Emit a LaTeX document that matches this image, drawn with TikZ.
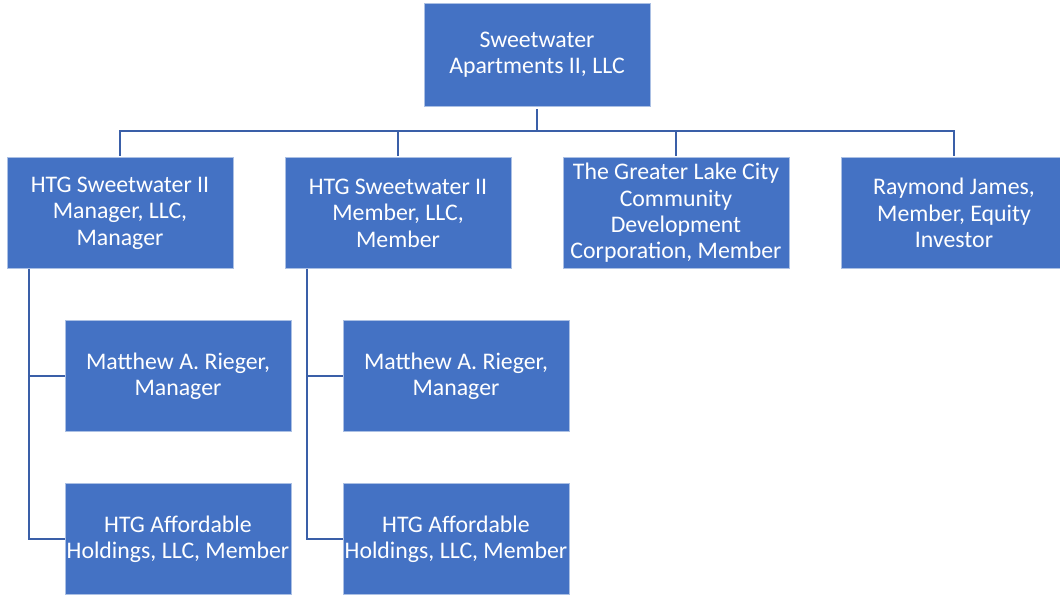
\documentclass[tikz,border=0pt]{standalone}
\usepackage{fontspec}
\setmainfont{Carlito}
\usetikzlibrary{positioning}
\definecolor{boxblue}{HTML}{4472C4}
\definecolor{linkblue}{HTML}{3A5FA8}
\tikzset{x=1pt,y=1pt,node distance=52pt,
  box/.style={draw=white!55!boxblue,line width=0.8pt,fill=boxblue,text=white,align=center,
    minimum width=226pt,minimum height=111pt,inner sep=0pt,outer sep=0pt,
    font=\fontsize{23.8}{26.4}\selectfont},
  link/.style={draw=linkblue,line width=2.8pt}}

\begin{document}
\begin{tikzpicture}
              \useasboundingbox (0,0) rectangle (1060,-596);
              \node[box,minimum height=103pt] (top) at (537,-54.5) {Sweetwater\\Apartments II, LLC};
              \node[box] (mgr) at (120,-213) {HTG Sweetwater II\\Manager, LLC,\\Manager};
              \node[box] (mem) [right=of mgr] {HTG Sweetwater II\\Member, LLC,\\Member};
              \node[box] (glc) [right=of mem] {The Greater Lake City\\Community\\Development\\Corporation, Member};
              \node[box] (rj) [right=of glc] {Raymond James,\\Member, Equity\\Investor};
              \node[box] (mgrA) [below=of mgr,xshift=58pt] {Matthew A. Rieger,\\Manager};
              \node[box] (mgrB) [below=of mgrA] {HTG Affordable\\Holdings, LLC, Member};
              \node[box] (memA) [below=of mem,xshift=58pt] {Matthew A. Rieger,\\Manager};
              \node[box] (memB) [below=of memA] {HTG Affordable\\Holdings, LLC, Member};

              \coordinate (bus) at ([yshift=-25pt]top.south);
              \coordinate (mgrspine) at ([xshift=22pt]mgr.south west);
              \coordinate (memspine) at ([xshift=22pt]mem.south west);

              \path[link]
              ([yshift=-3pt]top.south) -- (bus)
              (bus) -| ([yshift=1pt]mgr.north)
              (bus) -| ([yshift=1pt]mem.north)
              (bus) -| ([yshift=1pt]glc.north)
              (bus) -| ([yshift=1pt]rj.north)
              ([yshift=-3pt]mgrspine) |- (mgrA.west)
              (mgrspine) |- (mgrB.west)
              ([yshift=-3pt]memspine) |- (memA.west)
              (memspine) |- (memB.west)
              ;
            \end{tikzpicture}
\end{document}
